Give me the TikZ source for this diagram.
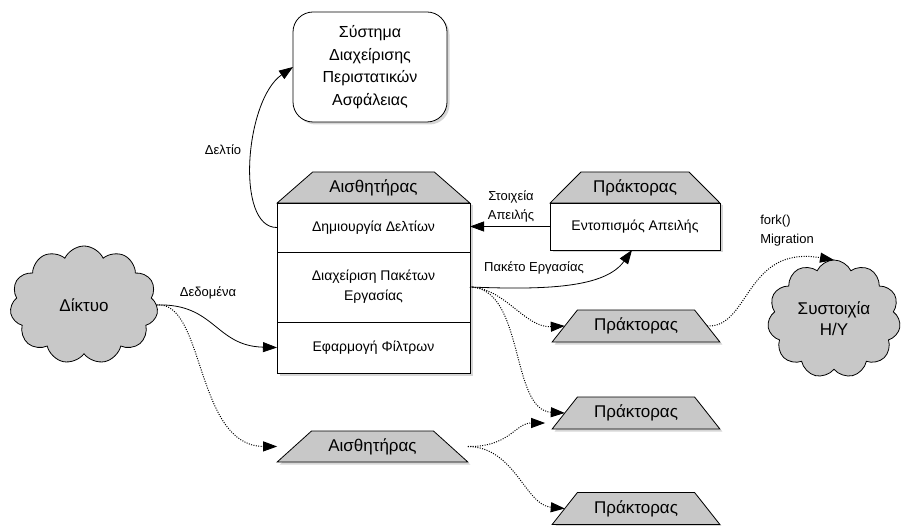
\documentclass[tikz,border=0pt]{standalone}
\usepackage{fontspec}
\setmainfont{Liberation Sans}
\usetikzlibrary{shapes.geometric,shapes.symbols,shadows,arrows.meta,calc}

\definecolor{panel}{RGB}{200,200,200}

\tikzset{
  base/.style={draw=black, line width=0.8pt, outer sep=0pt, inner sep=2pt},
  castshadow/.style={drop shadow={shadow xshift=2.5pt, shadow yshift=-2.5pt, fill=black!16, opacity=1}},
  titlefont/.style={font=\fontsize{17}{21}\selectfont},
  rowfont/.style={font=\fontsize{14}{20}\selectfont},
  lblfont/.style={font=\fontsize{13}{19}\selectfont},
  roof/.style={base, castshadow, trapezium, trapezium stretches=true, fill=panel, titlefont, minimum height=31pt},
  plate/.style={base, castshadow, trapezium, trapezium stretches=true, fill=panel, titlefont,
                minimum width=168pt, minimum height=32pt, trapezium angle=47},
  row/.style={base, castshadow, rectangle, fill=white, rowfont, align=center},
  puff/.style={base, cloud, cloud puffs=11, cloud puff arc=130, cloud ignores aspect, fill=panel, titlefont, align=center},
  flow/.style={line width=0.8pt, -{Triangle[length=14pt,width=10pt]}},
  dotflow/.style={flow, line width=1pt, dash pattern=on 1pt off 1.4pt},
}

\begin{document}
\begin{tikzpicture}[x=1pt,y=-1pt]
\useasboundingbox (0,0) rectangle (901,526);

% incident management system
\node[base, castshadow, rounded corners=20pt, fill=white, minimum width=154pt, minimum height=110pt,
      align=center, font=\fontsize{16}{22.5}\selectfont] (sims) at (370,67)
      {Σύστημα\\Διαχείρισης\\Περιστατικών\\Ασφάλειας};

% sensor with its three functions
\node[roof, minimum width=193pt, trapezium angle=37] (shead) at (373.5,187.5) {Αισθητήρας};
\node[row, minimum width=193pt, minimum height=49pt] (r1) at (373.5,227.5) {Δημιουργία Δελτίων};
\node[row, minimum width=193pt, minimum height=70pt] (r2) at (373.5,287) {Διαχείριση Πακέτων\\Εργασίας};
\node[row, minimum width=193pt, minimum height=51pt] (r3) at (373.5,347.5) {Εφαρμογή Φίλτρων};

% agent detecting threats
\node[roof, minimum width=170pt, trapezium angle=39] (ahead) at (635,187.5) {Πράκτορας};
\node[row, minimum width=170pt, minimum height=47pt] (abox) at (635,226.5) {Εντοπισμός Απειλής};

% clouds
\node[puff, minimum width=148pt, minimum height=118pt] (net) at (84,305) {Δίκτυο};
\node[puff, minimum width=133pt, minimum height=118pt] (clus) at (834,319) {Συστοιχία\\Η/Υ};

% lower sensor and mobile agents
\node[plate, minimum width=191pt, minimum height=31pt, trapezium angle=38] (lsens) at (372.5,446.5) {Αισθητήρας};
\node[plate] (ag1) at (636,326) {Πράκτορας};
\node[plate] (ag2) at (636,413) {Πράκτορας};
\node[plate] (ag3) at (636,508.5) {Πράκτορας};

% solid flows
\draw[flow] (r1.west) .. controls (235,228) and (245,100) .. (sims.west);
\node[lblfont] (lbdel) at (223,150) {Δελτίο};

\draw[flow] (abox.west) -- (abox.west -| r1.east);
\node[lblfont, align=center] (lbthr) at (511,206) {Στοιχεία\\Απειλής};

\draw[flow] (r2.east) .. controls (545,290) and (605,288) .. ($(abox.south)+(-3,0)$);
\node[lblfont] (lbpkt) at (534,268) {Πακέτο Εργασίας};

\draw[flow] (net.east) .. controls (215,303) and (215,346) .. (r3.west);
\node[lblfont] (lbdat) at (208,293) {Δεδομένα};

% dotted flows
\draw[dotflow] (net.east) .. controls (205,300) and (195,446) .. (lsens.bottom left corner |- lsens.west);
\draw[dotflow] (r2.east) .. controls (505,288) and (525,328) .. (ag1.west);
\draw[dotflow] (r2.east) .. controls (525,288) and (510,410) .. (ag2.west);
\draw[dotflow] (lsens.bottom right corner |- lsens.east) .. controls (510,447) and (515,423) .. ($(ag2.bottom left corner)+(-7,-6)$);
\draw[dotflow] (lsens.bottom right corner |- lsens.east) .. controls (515,447) and (525,505) .. (ag3.west);
\draw[dotflow] (ag1.east) .. controls (750,328) and (745,245) .. (clus.north);
\node[lblfont, align=left] (lbfork) at (787,231) {fork()\\Migration};

\end{tikzpicture}
\end{document}
